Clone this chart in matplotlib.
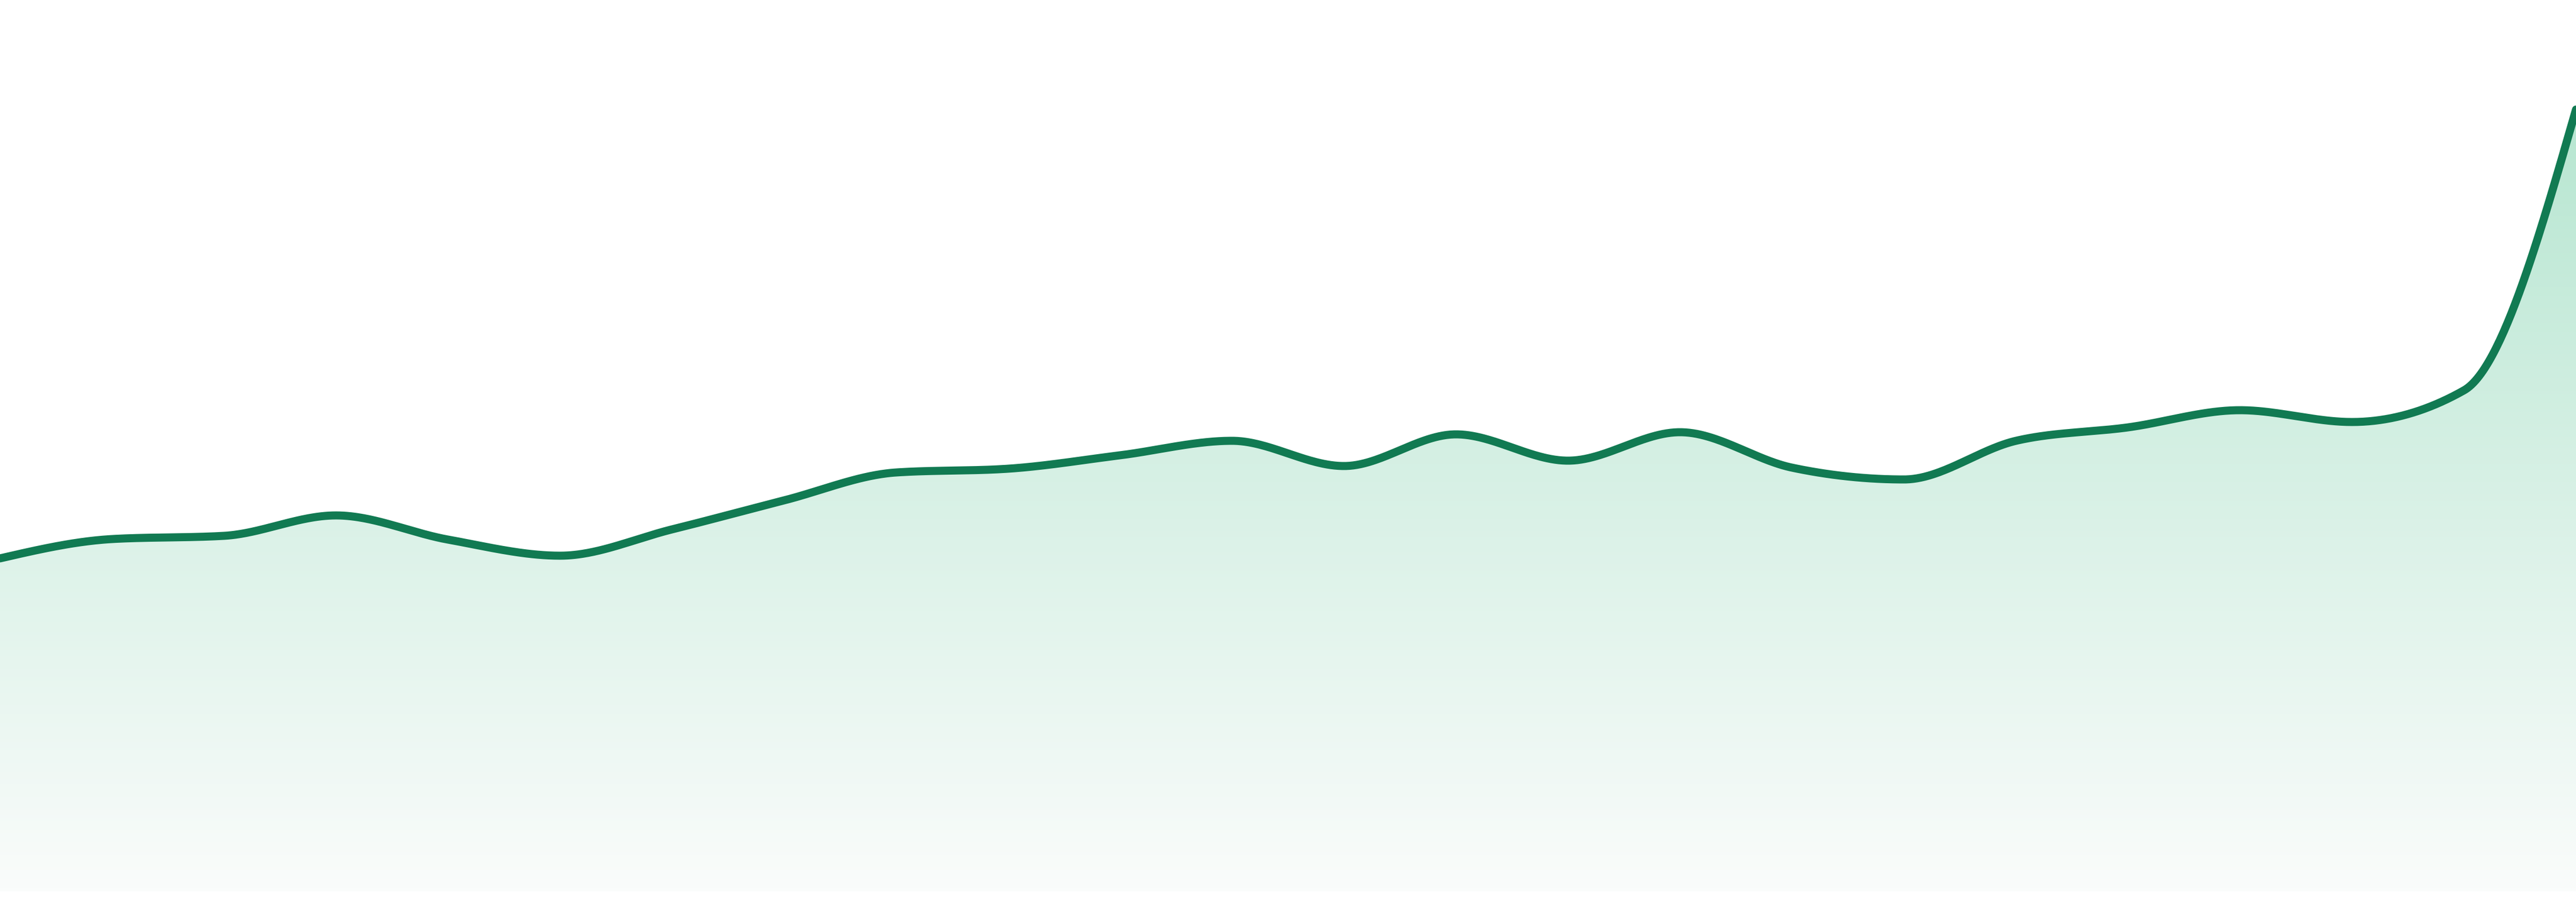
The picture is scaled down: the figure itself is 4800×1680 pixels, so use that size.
import numpy as np
import matplotlib
matplotlib.use("Agg")
import matplotlib.pyplot as plt
from matplotlib.patches import Polygon

# values, 24 evenly spaced points
values = [62.0, 65.6, 66.2, 70.0, 65.5, 62.5, 67.4, 72.8, 78.0, 78.7, 81.2, 83.9,
          79.2, 85.1, 80.2, 85.5, 78.9, 76.7, 83.9, 86.4, 89.6, 87.4, 93.3, 145.6]
idx = list(range(len(values)))

line_color = "#117a52"
fill_top = np.array([183, 230, 209]) / 255
fill_bottom = np.array([250, 252, 251]) / 255


def monotone_x(x, y, per_seg=60):
    # same shape as d3.curveMonotoneX
    x = np.asarray(x, float)
    y = np.asarray(y, float)
    h = np.diff(x)
    s = np.diff(y) / h
    m = np.zeros_like(y)
    for i in range(1, len(y) - 1):
        s0, s1 = s[i - 1], s[i]
        p = (s0 * h[i] + s1 * h[i - 1]) / (h[i - 1] + h[i])
        m[i] = (np.sign(s0) + np.sign(s1)) * min(abs(s0), abs(s1), 0.5 * abs(p))
    m[0] = (3 * s[0] - m[1]) / 2
    m[-1] = (3 * s[-1] - m[-2]) / 2
    xs, ys = [], []
    for i in range(len(x) - 1):
        t = np.linspace(0, 1, per_seg, endpoint=(i == len(x) - 2))
        h00 = 2 * t**3 - 3 * t**2 + 1
        h10 = t**3 - 2 * t**2 + t
        h01 = -2 * t**3 + 3 * t**2
        h11 = t**3 - t**2
        xs.append(x[i] + t * h[i])
        ys.append(h00 * y[i] + h10 * h[i] * m[i] + h01 * y[i + 1] + h11 * h[i] * m[i + 1])
    return np.concatenate(xs), np.concatenate(ys)


xs, ys = monotone_x(idx, values)

fig = plt.figure(figsize=(16, 5.6), dpi=300)
ax = fig.add_axes([0, 0, 1, 1])
ax.set_xlim(0, len(values) - 1)
ax.set_ylim(-2, 166)
ax.axis("off")

# gradient fill under the curve
top = max(values)
grad = np.linspace(0, 1, 256)[:, None]
img = fill_top[None, None, :] * (1 - grad[:, :, None]) + fill_bottom[None, None, :] * grad[:, :, None]
poly = Polygon(np.column_stack([np.r_[xs, xs[-1], xs[0]], np.r_[ys, 0, 0]]),
               closed=True, facecolor="none", edgecolor="none")
ax.add_patch(poly)
im = ax.imshow(img, extent=[0, len(values) - 1, 0, top], aspect="auto",
               origin="upper", zorder=1)
im.set_clip_path(poly)

ax.plot(xs, ys, color=line_color, lw=3.6, solid_capstyle="round",
        solid_joinstyle="round", zorder=3)

fig.savefig("out.png", dpi=300, facecolor="white")
